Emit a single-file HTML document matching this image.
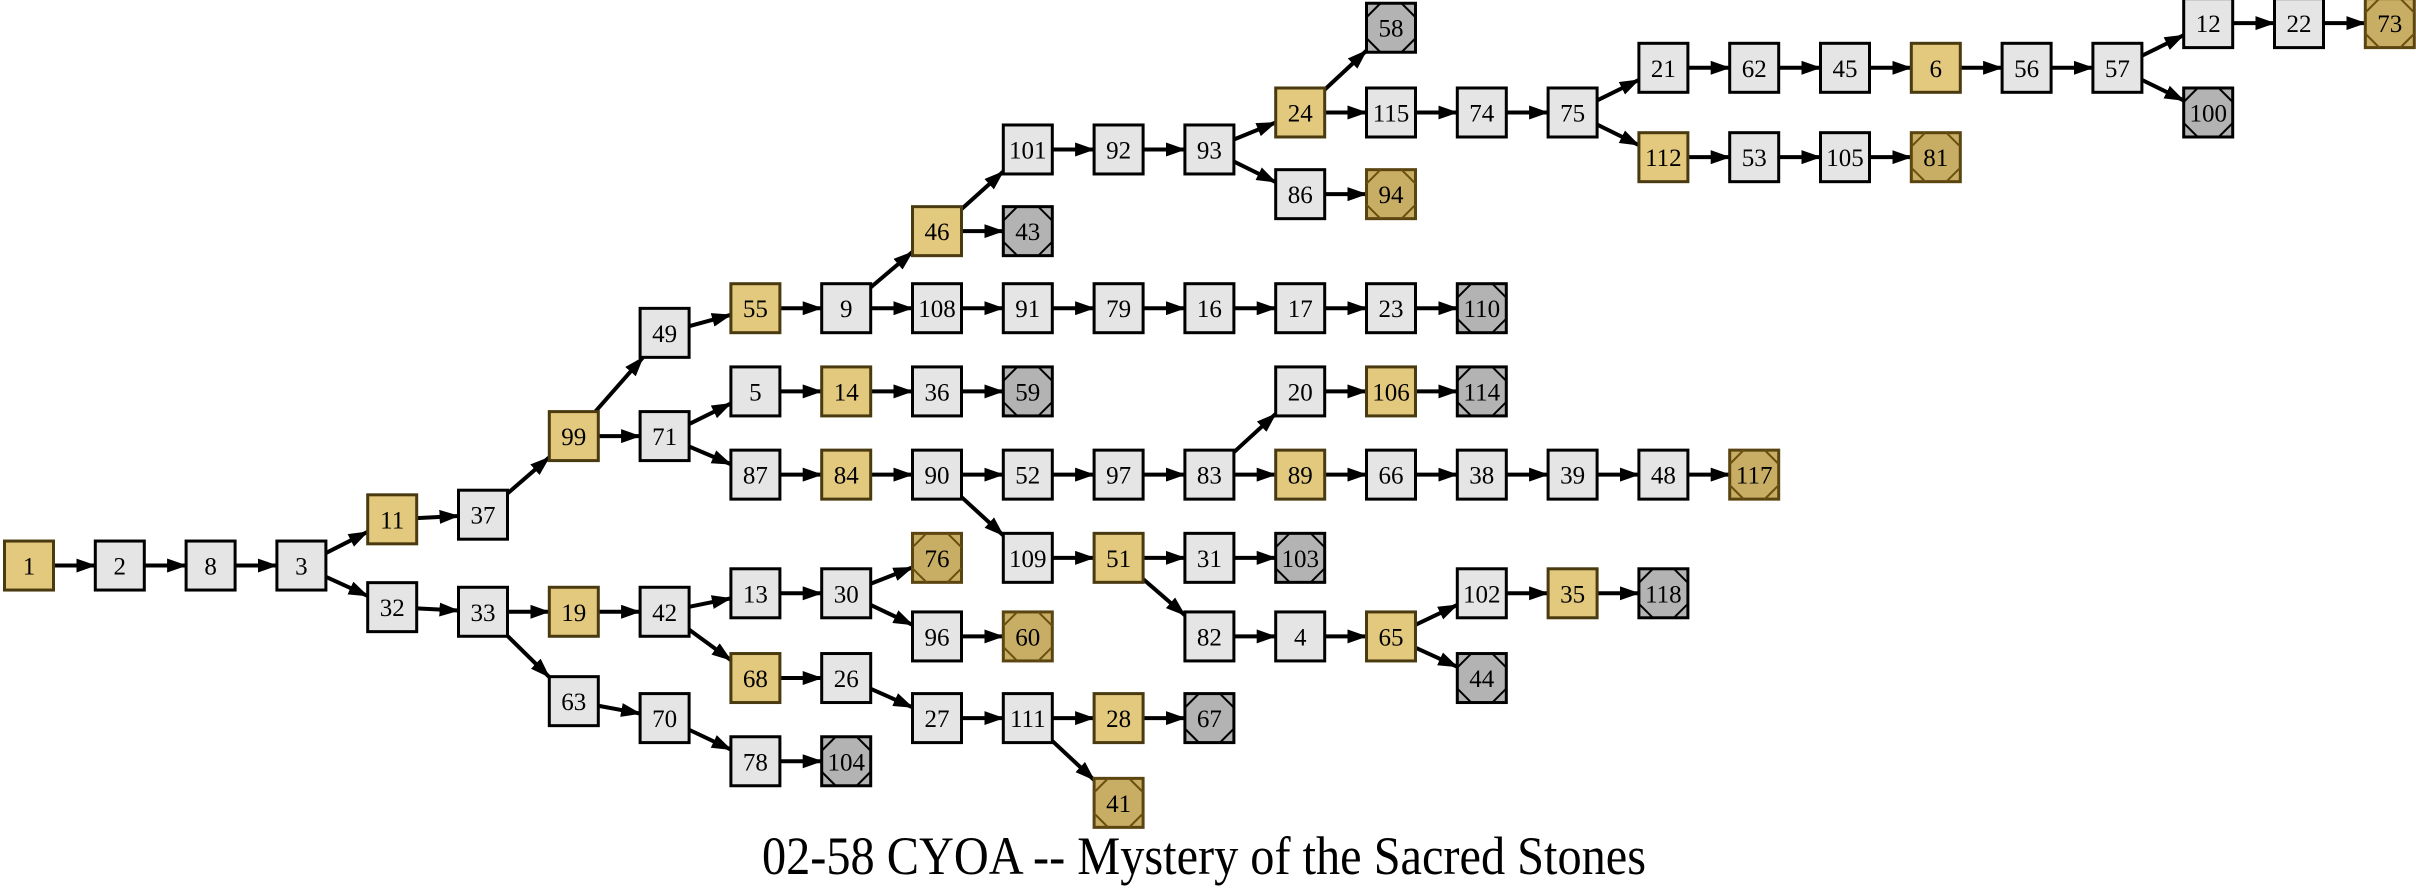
<!DOCTYPE html>
<html><head><meta charset="utf-8"><style>
html,body{margin:0;padding:0;background:#fff;}
svg{display:block;}
</style></head><body>
<svg id="s" width="2416" height="889" xmlns="http://www.w3.org/2000/svg">
<defs><marker id="a" markerWidth="20" markerHeight="14" refX="19" refY="7" orient="auto" markerUnits="userSpaceOnUse"><path d="M0,0 L20,7 L0,14 z" fill="#000"/></marker></defs>
<g id="e"></g><g id="n"></g>
<text x="1204" y="874" font-family="Liberation Serif, serif" font-size="54" text-anchor="middle" textLength="884" lengthAdjust="spacingAndGlyphs">02-58 CYOA -- Mystery of the Sacred Stones</text>
</svg>
<script>
var col={1:0,2:1,8:2,3:3,11:4,32:4,37:5,33:5,99:6,19:6,63:6,49:7,71:7,42:7,70:7,55:8,5:8,87:8,13:8,68:8,78:8,9:9,14:9,84:9,30:9,26:9,104:9,46:10,108:10,36:10,90:10,76:10,96:10,27:10,101:11,43:11,91:11,59:11,52:11,109:11,60:11,111:11,92:12,79:12,97:12,51:12,28:12,41:12,93:13,16:13,83:13,31:13,82:13,67:13,24:14,86:14,17:14,20:14,89:14,103:14,4:14,58:15,115:15,94:15,23:15,106:15,66:15,65:15,74:16,110:16,114:16,38:16,102:16,44:16,75:17,39:17,35:17,21:18,112:18,48:18,118:18,62:19,53:19,117:19,45:20,105:20,6:21,81:21,56:22,57:23,12:24,100:24,22:25,73:26};
var row={58:18,24:73,115:73,74:73,75:73,21:44,62:44,45:44,6:44,56:44,57:44,12:15,22:15,73:15,100:73,112:102,53:102,105:102,81:102,101:97,92:97,93:97,86:126,94:126,46:150,43:150,49:216,55:200,9:200,108:200,91:200,79:200,16:200,17:200,23:200,110:200,5:254,14:254,36:254,59:254,20:254,106:254,114:254,99:283,71:283,87:308,84:308,90:308,52:308,97:308,83:308,89:308,66:308,38:308,39:308,48:308,117:308,11:337,37:334,109:362,51:362,31:362,103:362,1:367,2:367,8:367,3:367,76:362,32:394,33:397,19:397,42:397,13:385,30:385,96:413,60:413,82:413,4:413,65:413,102:385,35:385,118:385,44:440,68:440,26:440,27:466,111:466,28:466,67:466,63:455,70:466,78:494,104:494,41:521};
var gold=[1,11,99,55,46,24,112,6,14,84,89,106,51,19,68,65,35,28];
var tg=[58,100,43,110,59,114,103,118,44,67,104];
var tgo=[73,81,94,117,76,60,41];
var E="1-2,2-8,8-3,3-11,3-32,11-37,32-33,37-99,33-19,33-63,99-49,99-71,49-55,55-9,9-46,9-108,46-101,46-43,101-92,92-93,93-24,93-86,24-58,24-115,115-74,74-75,75-21,75-112,21-62,62-45,45-6,6-56,56-57,57-12,57-100,12-22,22-73,112-53,53-105,105-81,86-94,108-91,91-79,79-16,16-17,17-23,23-110,71-5,71-87,5-14,14-36,36-59,87-84,84-90,90-52,90-109,52-97,97-83,83-20,83-89,20-106,106-114,89-66,66-38,38-39,39-48,48-117,109-51,51-31,51-82,31-103,82-4,4-65,65-102,65-44,102-35,35-118,19-42,42-13,42-68,13-30,30-76,30-96,96-60,68-26,26-27,27-111,111-28,111-41,28-67,63-70,70-78,78-104";
function P(k){return [29+col[k]*90.8, row[k]*1.541];}
var H=24.5,ns="http://www.w3.org/2000/svg",eg=document.getElementById('e'),ng=document.getElementById('n');
function clip(c,dx,dy){var t=Math.min(H/Math.abs(dx||1e-9),H/Math.abs(dy||1e-9));return [c[0]+dx*t,c[1]+dy*t];}
E.split(',').forEach(function(p){var q=p.split('-'),a=P(q[0]),b=P(q[1]);var dx=b[0]-a[0],dy=b[1]-a[1];var s=clip(a,dx,dy),t=clip(b,-dx,-dy);
var l=document.createElementNS(ns,'line');l.setAttribute('x1',s[0]);l.setAttribute('y1',s[1]);l.setAttribute('x2',t[0]);l.setAttribute('y2',t[1]);l.setAttribute('stroke','#000');l.setAttribute('stroke-width','4');l.setAttribute('marker-end','url(#a)');eg.appendChild(l);});
Object.keys(col).forEach(function(k){k=+k;var c=P(k),x=c[0]-H,y=c[1]-H,w=2*H;var fill='#e5e5e5',st='#000',h='';
if(gold.indexOf(k)>=0){fill='#e2c97e';st='#4a3a10';}
if(tg.indexOf(k)>=0){fill='#b3b3b3';st='#000';}
if(tgo.indexOf(k)>=0){fill='#c8ad64';st='#5a4510';}
h+='<rect x="'+x+'" y="'+y+'" width="'+w+'" height="'+w+'" fill="'+fill+'" stroke="'+st+'" stroke-width="3"/>';
if(tg.indexOf(k)>=0||tgo.indexOf(k)>=0){var d=14,lc=tg.indexOf(k)>=0?'#000':'#6a5010';
h+='<path d="M'+(x+d)+','+y+' L'+x+','+(y+d)+' M'+(x+w-d)+','+y+' L'+(x+w)+','+(y+d)+' M'+x+','+(y+w-d)+' L'+(x+d)+','+(y+w)+' M'+(x+w)+','+(y+w-d)+' L'+(x+w-d)+','+(y+w)+'" stroke="'+lc+'" stroke-width="2" fill="none"/>';}
h+='<text x="'+c[0]+'" y="'+(c[1]+9)+'" font-family="Liberation Serif, serif" font-size="25" text-anchor="middle">'+k+'</text>';
ng.insertAdjacentHTML('beforeend',h);});
</script>
</body></html>
